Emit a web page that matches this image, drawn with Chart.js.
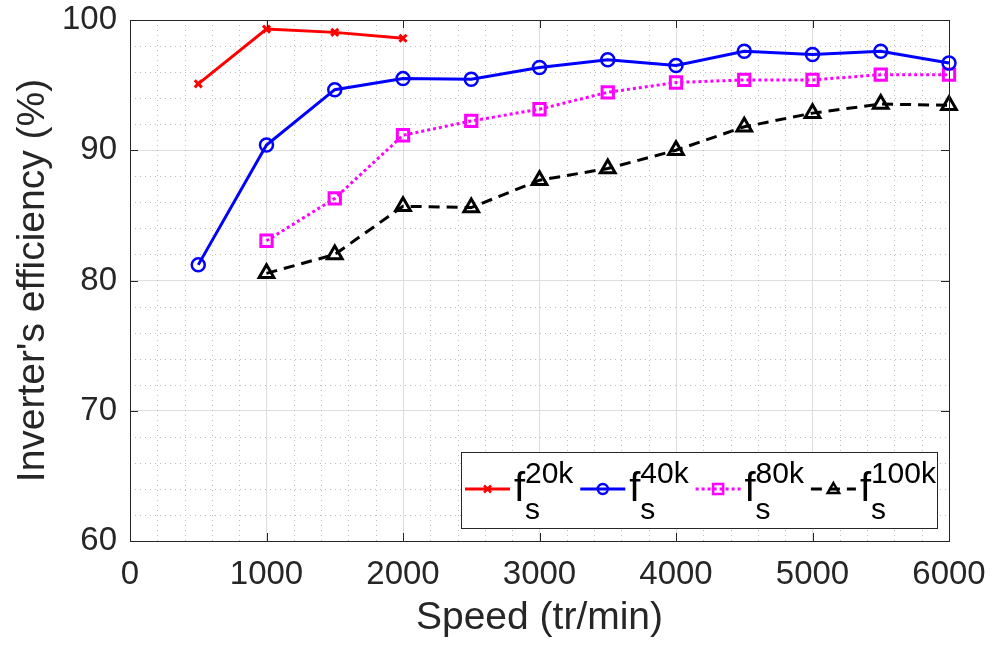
<!DOCTYPE html>
<html>
<head>
<meta charset="utf-8">
<title>Inverter's efficiency</title>
<script src="https://cdn.jsdelivr.net/npm/chart.js@4.4.1/dist/chart.umd.min.js"></script>
<style>
  html, body { margin: 0; padding: 0; background: #fff; }
  #wrap { width: 998px; height: 650px; position: relative; }
</style>
</head>
<body>
<div id="wrap"><canvas id="chart" width="998" height="650"></canvas></div>
<script>
// data (speed in tr/min, efficiency in %)
const speed20k = [500, 1000, 1500, 2000];
const eff20k = [95.1, 99.3, 99.05, 98.6];

const speed40k = [500, 1000, 1500, 2000, 2500, 3000, 3500, 4000, 4500, 5000, 5500, 6000];
const eff40k = [81.2, 90.4, 94.65, 95.5, 95.45, 96.35, 96.95, 96.5, 97.6, 97.35, 97.6, 96.7];

const speed80k = [1000, 1500, 2000, 2500, 3000, 3500, 4000, 4500, 5000, 5500, 6000];
const eff80k = [83.05, 86.3, 91.15, 92.25, 93.15, 94.45, 95.2, 95.4, 95.4, 95.8, 95.8];

const speed100k = [1000, 1500, 2000, 2500, 3000, 3500, 4000, 4500, 5000, 5500, 6000];
const eff100k = [80.55, 82.0, 85.7, 85.6, 87.7, 88.6, 90.0, 91.8, 92.85, 93.55, 93.45];

const seriesNames = ['20k', '40k', '80k', '100k'];

// axes
const xMin = 0, xMax = 6000, xStep = 1000, xMinorStep = 200;
const yMin = 60, yMax = 100, yStep = 10, yMinorStep = 2;

const FONT = '"Liberation Sans", Arial, Helvetica, sans-serif';
const AXIS_COLOR = '#262626';

function pts(xs, ys) {
    return xs.map((x, i) => ({ x: x, y: ys[i] }));
}

// little marker painter for the legend
function drawMarker(ctx, style, x, y, r) {
    ctx.beginPath();
    if (style === 'circle') {
        ctx.arc(x, y, r, 0, Math.PI * 2);
    } else if (style === 'rect') {
        ctx.rect(x - r, y - r, 2 * r, 2 * r);
    } else if (style === 'triangle') {
        ctx.moveTo(x, y - r);
        ctx.lineTo(x + r * 0.95, y + r * 0.65);
        ctx.lineTo(x - r * 0.95, y + r * 0.65);
        ctx.closePath();
    } else if (style === 'crossRot') {
        ctx.moveTo(x - r, y - r); ctx.lineTo(x + r, y + r);
        ctx.moveTo(x + r, y - r); ctx.lineTo(x - r, y + r);
    }
    ctx.stroke();
}

// matlab-like frame: minor dotted grid, box, inward ticks, legend
const matlabFrame = {
    id: 'matlabFrame',
    beforeDatasetsDraw(chart) {
        const { ctx, chartArea: a, scales: { x, y } } = chart;
        ctx.save();
        ctx.strokeStyle = '#bdbdbd';
        ctx.lineWidth = 1;
        ctx.setLineDash([1, 4]);
        for (let v = xMin + xMinorStep; v < xMax; v += xMinorStep) {
            if (v % xStep === 0) continue;
            const px = Math.round(x.getPixelForValue(v)) + 0.5;
            ctx.beginPath(); ctx.moveTo(px, a.bottom); ctx.lineTo(px, a.top); ctx.stroke();
        }
        for (let v = yMin + yMinorStep; v < yMax; v += yMinorStep) {
            if (v % yStep === 0) continue;
            const py = Math.round(y.getPixelForValue(v)) + 0.5;
            ctx.beginPath(); ctx.moveTo(a.left, py); ctx.lineTo(a.right, py); ctx.stroke();
        }
        ctx.restore();
    },
    afterDatasetsDraw(chart) {
        const { ctx, chartArea: a, scales: { x, y } } = chart;
        ctx.save();
        ctx.strokeStyle = AXIS_COLOR;
        ctx.lineWidth = 1;
        ctx.setLineDash([]);
        ctx.strokeRect(Math.round(a.left) + 0.5, Math.round(a.top) + 0.5,
            Math.round(a.right - a.left), Math.round(a.bottom - a.top));
        const tl = 8;
        ctx.beginPath();
        for (let v = xMin + xStep; v < xMax; v += xStep) {
            const px = Math.round(x.getPixelForValue(v)) + 0.5;
            ctx.moveTo(px, a.bottom); ctx.lineTo(px, a.bottom - tl);
            ctx.moveTo(px, a.top); ctx.lineTo(px, a.top + tl);
        }
        for (let v = yMin + yStep; v < yMax; v += yStep) {
            const py = Math.round(y.getPixelForValue(v)) + 0.5;
            ctx.moveTo(a.left, py); ctx.lineTo(a.left + tl, py);
            ctx.moveTo(a.right, py); ctx.lineTo(a.right - tl, py);
        }
        ctx.stroke();
        ctx.restore();
    },
    afterDraw(chart) {
        const ctx = chart.ctx;
        // legend box
        const lx = 461, ly = 452, lw = 476, lh = 76;
        ctx.save();
        ctx.fillStyle = '#fff';
        ctx.fillRect(lx, ly, lw, lh);
        ctx.strokeStyle = AXIS_COLOR;
        ctx.lineWidth = 1;
        ctx.strokeRect(lx + 0.5, ly + 0.5, lw, lh);

        const midY = 489;
        chart.data.datasets.forEach((ds, i) => {
            const x0 = 465 + i * 115.3;
            const x1 = x0 + 45;
            ctx.strokeStyle = ds.borderColor;
            ctx.lineWidth = ds.borderWidth;
            ctx.setLineDash(ds.borderDash || []);
            ctx.beginPath();
            ctx.moveTo(x0, midY); ctx.lineTo(x1, midY);
            ctx.stroke();
            ctx.setLineDash([]);
            ctx.lineWidth = 2.5;
            const r = ds.pointStyle === 'crossRot' ? 3.5 : (ds.pointStyle === 'triangle' ? 6 : 5);
            drawMarker(ctx, ds.pointStyle, (x0 + x1) / 2, midY, r);

            // f with subscript s and superscript
            const tx = x1 + 4;
            ctx.fillStyle = '#000';
            ctx.textAlign = 'left';
            ctx.textBaseline = 'alphabetic';
            ctx.font = '40px ' + FONT;
            ctx.fillText('f', tx, 501);
            ctx.font = '30px ' + FONT;
            ctx.fillText(seriesNames[i], tx + 11, 483);
            ctx.fillText('s', tx + 11, 519);
        });
        ctx.restore();
    }
};

const ctx = document.getElementById('chart').getContext('2d');
const chart = new Chart(ctx, {
    type: 'line',
    data: {
        datasets: [
            {
                label: 'f_s^20k',
                data: pts(speed20k, eff20k),
                borderColor: '#ff0000',
                backgroundColor: 'rgba(0,0,0,0)',
                borderWidth: 3,
                pointStyle: 'crossRot',
                pointRadius: 5,
                pointBorderWidth: 3,
                pointBorderColor: '#ff0000',
                pointBackgroundColor: 'rgba(0,0,0,0)',
                clip: false
            },
            {
                label: 'f_s^40k',
                data: pts(speed40k, eff40k),
                borderColor: '#0000ff',
                backgroundColor: 'rgba(0,0,0,0)',
                borderWidth: 3,
                pointStyle: 'circle',
                pointRadius: 6.5,
                pointBorderWidth: 2.5,
                pointBorderColor: '#0000ff',
                pointBackgroundColor: 'rgba(0,0,0,0)',
                clip: false
            },
            {
                label: 'f_s^80k',
                data: pts(speed80k, eff80k),
                borderColor: '#ff00ff',
                backgroundColor: 'rgba(0,0,0,0)',
                borderWidth: 3,
                borderDash: [3, 3],
                pointStyle: 'rect',
                pointRadius: 8,
                pointBorderWidth: 3,
                pointBorderColor: '#ff00ff',
                pointBackgroundColor: 'rgba(0,0,0,0)',
                clip: false
            },
            {
                label: 'f_s^100k',
                data: pts(speed100k, eff100k),
                borderColor: '#000000',
                backgroundColor: 'rgba(0,0,0,0)',
                borderWidth: 3,
                borderDash: [11, 7],
                pointStyle: 'triangle',
                pointRadius: 8.5,
                pointBorderWidth: 3,
                pointBorderColor: '#000000',
                pointBackgroundColor: 'rgba(0,0,0,0)',
                clip: false
            }
        ]
    },
    options: {
        responsive: false,
        animation: false,
        devicePixelRatio: 1,
        layout: { padding: { top: 20, right: 49, left: 0, bottom: 0 } },
        elements: { line: { tension: 0 } },
        plugins: {
            legend: { display: false },
            tooltip: { enabled: false }
        },
        scales: {
            x: {
                type: 'linear',
                min: xMin,
                max: xMax,
                afterFit: s => {
                    s.height = 109;
                    s.paddingLeft = 0;
                    s.paddingRight = 0;
                },
                ticks: {
                    stepSize: xStep,
                    color: AXIS_COLOR,
                    font: { family: FONT, size: 33 },
                    padding: 14,
                    maxRotation: 0,
                    callback: v => String(v)
                },
                grid: { color: '#dedede', lineWidth: 1, drawTicks: false },
                border: { display: false },
                title: {
                    display: true,
                    text: 'Speed (tr/min)',
                    color: AXIS_COLOR,
                    font: { family: FONT, size: 39 },
                    padding: { top: 0, bottom: 8 }
                }
            },
            y: {
                type: 'linear',
                min: yMin,
                max: yMax,
                afterFit: s => {
                    s.width = 130;
                    s.paddingTop = 0;
                    s.paddingBottom = 0;
                },
                ticks: {
                    stepSize: yStep,
                    color: AXIS_COLOR,
                    font: { family: FONT, size: 33 },
                    padding: 13,
                    callback: v => String(v)
                },
                grid: { color: '#dedede', lineWidth: 1, drawTicks: false },
                border: { display: false },
                title: {
                    display: true,
                    text: "Inverter's efficiency (%)",
                    color: AXIS_COLOR,
                    font: { family: FONT, size: 39 },
                    padding: { top: 10, bottom: 0 }
                }
            }
        }
    },
    plugins: [matlabFrame]
});
</script>
</body>
</html>
